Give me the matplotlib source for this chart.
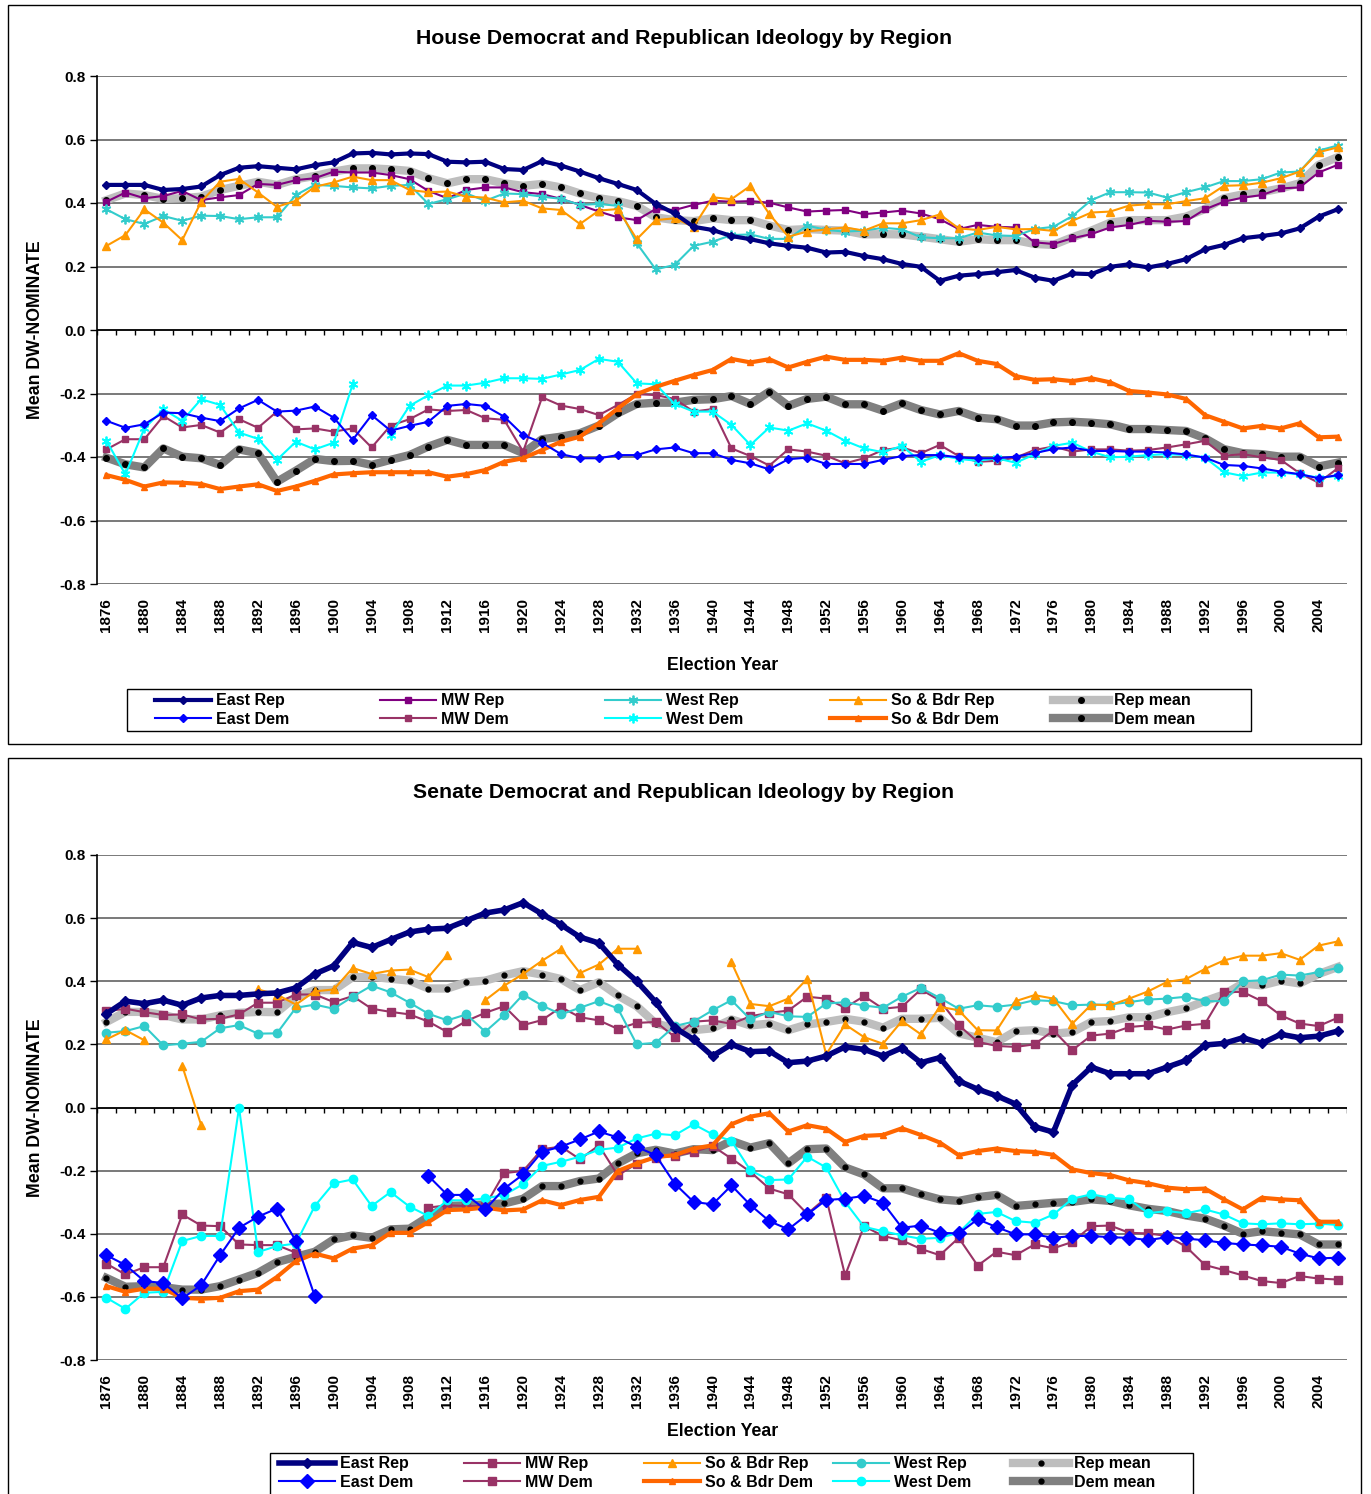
import numpy as np
import matplotlib.pyplot as plt
from matplotlib.patches import Rectangle

plt.rcParams['font.family'] = ['Liberation Sans', 'DejaVu Sans']
plt.rcParams['font.weight'] = 'bold'

nan = np.nan
years = list(range(1876, 2008, 2))

# ---- House data ----
house_east_rep = [.457, .457, .457, .441, .444, .452, .488, .511, .516, .511, .506, .519, .528, .556, .558, .553, .556, .554, .530, .528, .530, .507, .504,
                  .532, .518, .499, .478, .460, .441, .397, .367, .325, .315, .296, .286, .273, .265, .259, .244, .246, .233, .223, .208, .199, .155,
                  .171, .176, .182, .189, .165, .155, .178, .176, .199, .207, .197, .208, .223, .254, .268, .289, .296, .304, .320, .357, .380]
house_mw_rep = [.404, .433, .415, .422, .438, .409, .418, .425, .460, .457, .472, .478, .499, .496, .496, .488, .475, .438, .415, .441, .449, .449, .434,
                .428, .413, .394, .373, .355, .346, .381, .378, .394, .407, .404, .406, .401, .386, .373, .376, .378, .365, .370, .376, .367, .349,
                .318, .331, .325, .323, .276, .271, .289, .302, .323, .331, .344, .341, .343, .380, .404, .417, .425, .446, .449, .496, .520]
house_west_rep = [.380, .349, .334, .359, .344, .360, .359, .349, .355, .355, .425, .457, .454, .449, .446, .454, .457, .397, .412, .430, .407, .430, .428,
                  .420, .413, .394, .397, .391, .273, .191, .205, .265, .278, .299, .301, .287, .287, .329, .315, .310, .313, .322, .317, .292, .289,
                  .289, .307, .298, .296, .318, .325, .359, .409, .434, .434, .433, .417, .434, .449, .469, .469, .475, .496, .499, .565, .581]
house_so_rep = [.265, .299, .380, .338, .283, .404, .467, .476, .433, .388, .407, .451, .465, .483, .472, .472, .441, .434, .436, .420, .417, .402, .407,
                .383, .378, .334, .376, .381, .286, .346, .352, .325, .418, .412, .454, .365, .294, .310, .317, .323, .313, .336, .336, .346, .364,
                .320, .315, .325, .317, .318, .312, .344, .370, .373, .392, .396, .396, .406, .415, .454, .456, .464, .478, .499, .560, .575]
house_rep_mean = [.409, .430, .425, .413, .415, .420, .441, .454, .467, .457, .475, .485, .499, .509, .509, .506, .501, .478, .462, .475, .475, .462, .454,
                  .460, .449, .430, .415, .406, .391, .355, .346, .343, .352, .346, .346, .329, .315, .318, .315, .313, .301, .302, .301, .294, .286,
                  .278, .286, .283, .283, .271, .268, .292, .313, .338, .346, .346, .346, .357, .381, .415, .427, .434, .446, .462, .520, .544]
house_east_dem = [-.286, -.308, -.297, -.260, -.262, -.276, -.287, -.247, -.220, -.257, -.254, -.241, -.276, -.346, -.268, -.317, -.302, -.289, -.239, -.233, -.239, -.273, -.331,
                  -.355, -.391, -.404, -.404, -.394, -.394, -.376, -.370, -.388, -.388, -.409, -.420, -.439, -.407, -.402, -.422, -.422, -.422, -.409, -.397, -.394, -.394,
                  -.401, -.404, -.404, -.399, -.388, -.375, -.370, -.381, -.381, -.383, -.383, -.386, -.392, -.402, -.425, -.428, -.436, -.446, -.454, -.467, -.457]
house_mw_dem = [-.376, -.344, -.344, -.271, -.307, -.299, -.323, -.281, -.308, -.257, -.313, -.310, -.320, -.310, -.370, -.301, -.281, -.250, -.255, -.252, -.278, -.283, -.383,
                -.212, -.238, -.249, -.268, -.236, -.202, -.205, -.217, -.257, -.249, -.373, -.397, -.427, -.376, -.383, -.396, -.420, -.404, -.378, -.370, -.388, -.362,
                -.397, -.415, -.412, -.402, -.378, -.367, -.383, -.376, -.376, -.380, -.378, -.370, -.360, -.349, -.396, -.391, -.401, -.409, -.451, -.481, -.436]
house_west_dem = [-.349, -.455, -.310, -.250, -.286, -.218, -.236, -.323, -.343, -.409, -.352, -.376, -.355, -.171, nan, -.331, -.239, -.205, -.175, -.175, -.166, -.152, -.152,
                  -.154, -.140, -.126, -.091, -.100, -.168, -.171, -.233, -.257, -.257, -.299, -.362, -.307, -.317, -.294, -.317, -.349, -.373, -.385, -.365, -.415, -.394,
                  -.406, -.412, -.404, -.418, -.392, -.365, -.355, -.383, -.401, -.399, -.394, -.391, -.394, -.402, -.448, -.460, -.449, -.449, -.455, -.465, -.460]
house_so_dem = [-.457, -.472, -.493, -.480, -.481, -.485, -.501, -.493, -.486, -.507, -.493, -.475, -.455, -.451, -.448, -.448, -.448, -.448, -.462, -.454, -.441, -.415, -.404,
                -.378, -.352, -.336, -.294, -.247, -.202, -.179, -.160, -.142, -.126, -.091, -.102, -.092, -.118, -.100, -.084, -.094, -.094, -.097, -.087, -.097, -.097,
                -.073, -.097, -.107, -.145, -.157, -.155, -.161, -.152, -.165, -.192, -.197, -.203, -.217, -.268, -.289, -.310, -.302, -.310, -.294, -.338, -.336]
house_dem_mean = [-.402, -.423, -.433, -.373, -.399, -.404, -.425, -.376, -.388, -.478, -.443, -.406, -.413, -.412, -.425, -.409, -.394, -.367, -.346, -.362, -.362, -.362, -.388,
                  -.344, -.336, -.325, -.301, -.262, -.233, -.229, -.229, -.220, -.218, -.208, -.233, -.194, -.239, -.217, -.210, -.234, -.234, -.254, -.231, -.252, -.266,
                  -.255, -.276, -.281, -.301, -.301, -.291, -.289, -.292, -.297, -.312, -.312, -.315, -.318, -.341, -.375, -.388, -.391, -.399, -.399, -.430, -.418]

# ---- Senate data ----
sen_east_rep = [.297, .337, .329, .340, .324, .347, .355, .355, .360, .363, .379, .423, .449, .523, .507, .532, .556, .565, .568, .592, .616, .626, .649,
                .613, .579, .540, .521, .453, .400, .334, .253, .216, .163, .200, .177, .179, .142, .147, .163, .192, .184, .163, .189, .142, .158,
                .084, .058, .037, .011, -.061, -.078, .072, .128, .107, .107, .107, .128, .149, .198, .203, .221, .203, .232, .221, .226, .242]
sen_mw_rep = [.305, .313, .302, .293, .295, .279, .281, .295, .332, .332, .358, .358, .334, .353, .313, .303, .295, .272, .239, .274, .300, .321, .261,
              .277, .318, .286, .276, .249, .268, .271, .224, .272, .276, .265, .289, .300, .307, .351, .345, .316, .353, .313, .319, .374, .339,
              .261, .208, .195, .192, .200, .244, .182, .228, .234, .255, .260, .247, .260, .265, .366, .366, .337, .292, .266, .258, .284]
sen_so_rep = [.216, .245, .213, nan, .132, -.056, nan, nan, .374, .358, .326, .368, .374, .442, .423, .434, .437, .413, .484, nan, .340, .386, .423,
              .465, .503, .426, .453, .503, .503, nan, nan, nan, nan, .460, .328, .321, .345, .408, .168, .263, .223, .202, .274, .232, .319,
              .308, .245, .244, .337, .356, .345, .266, .326, .324, .345, .368, .398, .407, .439, .466, .481, .481, .489, .468, .513, .526]
sen_west_rep = [.237, .242, .258, .197, .202, .208, .251, .261, .234, .235, .316, .326, .313, .351, .386, .365, .332, .297, .276, .295, .240, .293, .358,
                .323, .295, .316, .337, .314, .200, .205, .258, .272, .308, .340, .279, .303, .289, .287, .329, .334, .323, .316, .351, .379, .347,
                .313, .324, .319, .326, .340, .337, .324, .326, .326, .334, .342, .345, .351, .337, .337, .400, .403, .421, .418, .429, .442]
sen_rep_mean = [.271, .303, .303, .293, .279, .279, .292, .300, .303, .302, .351, .372, .372, .413, .414, .408, .402, .377, .377, .397, .402, .419, .432,
                .421, .407, .372, .397, .355, .321, .266, .251, .245, .251, .279, .260, .266, .245, .263, .271, .281, .272, .253, .281, .281, .284,
                .235, .221, .207, .242, .245, .234, .239, .271, .274, .286, .286, .302, .314, .337, .358, .393, .387, .402, .393, .423, .445]
sen_east_dem = [-.468, -.499, -.550, -.556, -.605, -.563, -.468, -.381, -.346, -.320, -.423, -.598, nan, nan, nan, nan, nan, -.217, -.277, -.277, -.323, -.257, -.212,
                -.140, -.124, -.101, -.076, -.095, -.125, -.151, -.241, -.299, -.307, -.247, -.309, -.360, -.386, -.339, -.293, -.289, -.280, -.302, -.381, -.374, -.397,
                -.399, -.354, -.379, -.402, -.402, -.413, -.407, -.407, -.411, -.413, -.420, -.411, -.415, -.421, -.429, -.434, -.437, -.441, -.463, -.478, -.476]
sen_mw_dem = [-.495, -.529, -.506, -.506, -.339, -.374, -.376, -.434, -.436, -.436, -.460, nan, nan, nan, nan, nan, nan, -.317, -.310, -.312, -.312, -.208, -.201,
              -.132, -.124, -.164, -.120, -.215, -.178, -.159, -.153, -.141, -.122, -.162, -.204, -.257, -.275, -.337, -.286, -.532, -.376, -.407, -.421, -.448, -.468,
              -.413, -.501, -.457, -.468, -.434, -.446, -.426, -.376, -.374, -.397, -.399, -.407, -.441, -.499, -.515, -.532, -.550, -.556, -.534, -.542, -.545]
sen_so_dem = [-.566, -.584, -.574, -.574, -.603, -.606, -.603, -.582, -.577, -.537, -.487, -.463, -.478, -.447, -.437, -.397, -.397, -.363, -.325, -.323, -.317, -.326, -.323,
              -.294, -.309, -.293, -.283, -.201, -.177, -.157, -.151, -.130, -.120, -.053, -.029, -.018, -.076, -.056, -.067, -.109, -.090, -.087, -.066, -.087, -.111,
              -.151, -.138, -.130, -.138, -.141, -.150, -.196, -.208, -.214, -.231, -.240, -.254, -.259, -.257, -.291, -.323, -.286, -.291, -.294, -.362, -.362]
sen_west_dem = [-.603, -.638, -.587, -.584, -.423, -.407, -.407, 0.0, -.458, -.439, -.431, -.312, -.240, -.228, -.312, -.268, -.314, -.344, -.294, -.294, -.288, -.277, -.243,
                -.185, -.172, -.156, -.134, -.127, -.098, -.083, -.088, -.053, -.085, -.106, -.199, -.230, -.228, -.156, -.190, -.299, -.378, -.392, -.405, -.416, -.413,
                -.397, -.337, -.331, -.360, -.365, -.339, -.289, -.275, -.286, -.291, -.335, -.328, -.335, -.323, -.339, -.367, -.370, -.367, -.370, -.368, -.372]
sen_dem_mean = [-.540, -.568, -.566, -.569, -.577, -.577, -.566, -.545, -.524, -.490, -.473, -.457, -.418, -.405, -.413, -.386, -.384, -.346, -.312, -.310, -.307, -.304, -.289,
                -.249, -.249, -.233, -.225, -.177, -.145, -.134, -.146, -.132, -.135, -.106, -.127, -.113, -.177, -.132, -.130, -.190, -.212, -.256, -.256, -.275, -.291,
                -.296, -.284, -.277, -.312, -.307, -.302, -.299, -.291, -.296, -.310, -.321, -.328, -.342, -.352, -.374, -.400, -.392, -.397, -.402, -.434, -.434]

STAR = (6, 2, 0)

house_series = [
    ('Rep mean', house_rep_mean, dict(color='#BEBEBE', lw=6, marker='o', ms=4, mfc='black', mec='black', zorder=2)),
    ('Dem mean', house_dem_mean, dict(color='#808080', lw=6, marker='o', ms=4, mfc='black', mec='black', zorder=2)),
    ('MW Rep', house_mw_rep, dict(color='#800080', lw=1.5, marker='s', ms=5, zorder=3)),
    ('MW Dem', house_mw_dem, dict(color='#993366', lw=1.5, marker='s', ms=5, zorder=3)),
    ('West Rep', house_west_rep, dict(color='#33CCCC', lw=1.5, marker=STAR, ms=7, mew=1.3, zorder=3)),
    ('West Dem', house_west_dem, dict(color='#00FFFF', lw=1.5, marker=STAR, ms=7, mew=1.3, zorder=3)),
    ('So & Bdr Rep', house_so_rep, dict(color='#FF9900', lw=1.5, marker='^', ms=6, zorder=3)),
    ('So & Bdr Dem', house_so_dem, dict(color='#FF6600', lw=3, marker='^', ms=5, zorder=3)),
    ('East Rep', house_east_rep, dict(color='#000080', lw=3, marker='D', ms=4, zorder=4)),
    ('East Dem', house_east_dem, dict(color='#0000FF', lw=1.5, marker='D', ms=4, zorder=4)),
]
# legend columns: (top row, bottom row)
house_cols = [('East Rep', 'East Dem'), ('MW Rep', 'MW Dem'), ('West Rep', 'West Dem'),
              ('So & Bdr Rep', 'So & Bdr Dem'), ('Rep mean', 'Dem mean')]

sen_series = [
    ('Rep mean', sen_rep_mean, dict(color='#BEBEBE', lw=6, marker='o', ms=3.5, mfc='black', mec='black', zorder=2)),
    ('Dem mean', sen_dem_mean, dict(color='#808080', lw=6, marker='o', ms=3.5, mfc='black', mec='black', zorder=2)),
    ('MW Rep', sen_mw_rep, dict(color='#993366', lw=1.5, marker='s', ms=6, zorder=3)),
    ('MW Dem', sen_mw_dem, dict(color='#993366', lw=1.5, marker='s', ms=6, zorder=3)),
    ('West Rep', sen_west_rep, dict(color='#33CCCC', lw=1.5, marker='o', ms=6, zorder=3)),
    ('West Dem', sen_west_dem, dict(color='#00FFFF', lw=1.5, marker='o', ms=6, zorder=3)),
    ('So & Bdr Rep', sen_so_rep, dict(color='#FF9900', lw=1.5, marker='^', ms=6, zorder=3)),
    ('So & Bdr Dem', sen_so_dem, dict(color='#FF6600', lw=3, marker='^', ms=5, zorder=3)),
    ('East Rep', sen_east_rep, dict(color='#000080', lw=4, marker='D', ms=5, zorder=4)),
    ('East Dem', sen_east_dem, dict(color='#0000FF', lw=1.5, marker='D', ms=7, zorder=4)),
]
sen_cols = [('East Rep', 'East Dem'), ('MW Rep', 'MW Dem'), ('So & Bdr Rep', 'So & Bdr Dem'),
            ('West Rep', 'West Dem'), ('Rep mean', 'Dem mean')]

W, H = 1371, 1494
fig = plt.figure(figsize=(W / 100, H / 100), dpi=100)


def fx(px):
    return px / W


def fy(py):
    return 1 - py / H


def draw_panel(top_px, bottom_px, series, cols, title, title_y, xlabel_y, leg_box, leg_x, leg_y):
    ax = fig.add_axes([fx(97), fy(bottom_px), fx(1347 - 97), (bottom_px - top_px) / H])
    x = np.arange(len(years))
    lines = {}
    for name, vals, st in series:
        ln, = ax.plot(x, vals, label=name, **st)
        lines[name] = ln
    ax.set_xlim(-0.5, len(years) - 0.5)
    ax.set_ylim(-0.8, 0.8)
    yt = np.round(np.arange(-0.8, 0.81, 0.2), 1)
    ax.set_yticks(yt)
    ax.set_yticklabels([f'{v:.1f}'.replace('-0.0', '0.0') for v in yt], fontsize=11, fontweight='bold')
    for v in yt:
        ax.axhline(v, color='#555555', lw=1.1, zorder=1)
    ax.axhline(0, color='black', lw=1.2, zorder=1)
    # category tick marks on the zero axis
    ax.vlines(np.arange(-0.5, len(years)), -0.017, 0, color='black', lw=1, zorder=1)
    ax.set_xticks(x[::2])
    ax.set_xticklabels([str(y) for y in years[::2]], rotation=90, fontsize=11, fontweight='bold')
    ax.tick_params(axis='x', length=0, pad=10)
    ax.tick_params(axis='y', length=5, width=1, pad=3)
    for s in ['top', 'right', 'bottom']:
        ax.spines[s].set_visible(False)
    ax.spines['left'].set_linewidth(1.2)
    fig.text(fx(684), fy(title_y), title, ha='center', va='center', fontsize=15.3, fontweight='bold')
    fig.text(fx(723), fy(xlabel_y), 'Election Year', ha='center', va='center', fontsize=12.8, fontweight='bold')
    fig.text(fx(36), fy((top_px + bottom_px) / 2), 'Mean DW-NOMINATE', rotation=90,
             ha='center', va='center', fontsize=12.8, fontweight='bold')
    # legend: one borderless legend per column inside a drawn box
    x0, y0, x1, y1 = leg_box
    fig.patches.append(Rectangle((fx(x0), fy(y1)), fx(x1 - x0), (y1 - y0) / H,
                                 transform=fig.transFigure, fill=False, edgecolor='black', lw=1, zorder=5))
    for (top_name, bot_name), lx in zip(cols, leg_x):
        leg = fig.legend([lines[top_name], lines[bot_name]], [top_name, bot_name],
                         loc='center left', bbox_to_anchor=(fx(lx), fy(leg_y)),
                         frameon=False, fontsize=11.5, handlelength=3.5, handletextpad=0.35,
                         labelspacing=0.22, borderpad=0, borderaxespad=0)
        for t in leg.get_texts():
            t.set_fontweight('bold')
    return ax


draw_panel(76, 584, house_series, house_cols,
           'House Democrat and Republican Ideology by Region', 38, 665,
           (127, 689, 1251, 731), [155, 380, 605, 830, 1053], 710)
draw_panel(855, 1360, sen_series, sen_cols,
           'Senate Democrat and Republican Ideology by Region', 792, 1432,
           (270, 1453, 1193, 1500), [279, 464, 644, 833, 1013], 1473)

fig.patches.append(Rectangle((fx(8), fy(744)), fx(1353), 739 / H, transform=fig.transFigure,
                             fill=False, edgecolor='black', lw=1))
fig.patches.append(Rectangle((fx(8), fy(1500)), fx(1353), 742 / H, transform=fig.transFigure,
                             fill=False, edgecolor='black', lw=1))

fig.savefig('out.png', dpi=100)
